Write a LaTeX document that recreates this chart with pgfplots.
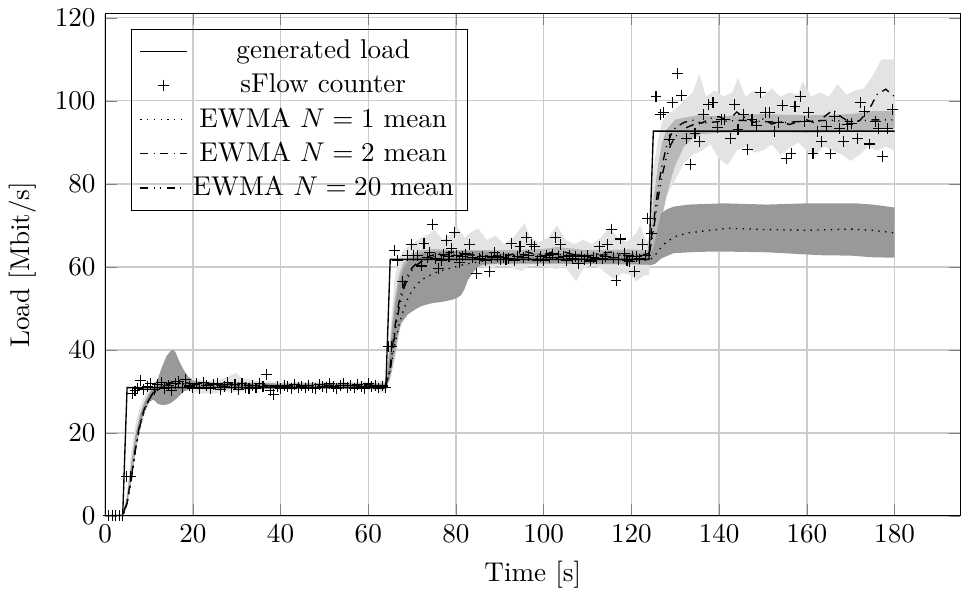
\documentclass[border=0pt]{standalone}
\usepackage{pgfplots}
\pgfplotsset{compat=1.18}
\definecolor{bandlight}{gray}{0.89}
\definecolor{bandmid}{gray}{0.72}
\definecolor{banddark}{gray}{0.60}
\begin{document}
\begin{tikzpicture}
\begin{axis}[
  scale only axis, width=315pt, height=185pt,
  xmin=0, xmax=195, ymin=0, ymax=121,
  xtick={0,20,...,180}, ytick={0,20,...,120},
  grid=major, major grid style={line width=0.5pt, black!20},
  xlabel={Time [s]}, ylabel={Load [Mbit/s]},
  legend style={at={(0.03,0.97)}, anchor=north west, fill=none, draw=black},
  legend cell align=center,
  tick align=inside,
]
% light band
\addplot[fill=bandlight, draw=none, forget plot] coordinates {
(0,0.3)(4,0.5)(5,6)(6,16)(7,22.5)(8,26.5)(9,29)(10,31)(12,33)(14,33.5)(16,33)(18,33.8)(20,33)(22,32.8)(24,32.5)(26,32.8)(28,33.5)(29.9,34.5)(31,33.3)(33,32.8)(35,32.5)(38,32.3)(40,32.4)(45,32.2)(50,32.5)(55,32.3)(60,32.4)(63,32.5)(64,32.6)(65,44)(66,57)(67,62)(68,64)(70,65.5)(72,67)(74,68)(75,69)(77,66.5)(79,68)(80.4,69.5)(82,67)(83,68)(85,69.3)(87,66.5)(89,67.5)(91,65.5)(93,67)(95.6,70.5)(97,67)(99,66)(101,67)(103,70)(105,66.5)(107,65.5)(109,66.5)(111,65.5)(113,67)(115,69.5)(117,67)(119,66)(121,68)(122,70)(123,67)(124,66)(125,84)(126,90)(127,95)(128,96.5)(130,98)(132,100)(134,102)(135.5,106.5)(137,101)(139,102.5)(141,101)(143,102)(144.3,105.5)(146,101)(148,102.5)(150,101)(152,103)(154,101)(156,102)(158,101.5)(159,104.7)(161,101)(163,102)(165,101)(167,104)(169,101.5)(171,102.5)(173,103)(175,106)(177,110)(180,110)
(180,88)(178,89)(176,88)(174,89)(172,87)(170,85.5)(168,87)(166,88)(164,89)(162,87)(160,88)(158,90)(156,88.5)(154,87)(152,89.5)(150,88)(148,87.5)(146,89)(144,88)(142,84.5)(140,86)(138,89.5)(136,88)(134,87)(132,85)(130,81)(128,77)(127,75)(126,72)(125,66)(124,58)(123,58)(121,56.5)(120,58)(118,58.5)(116,57)(113,59.5)(111,60.5)(109,59.5)(107.4,56.5)(105,60)(103,59.5)(100,60)(97,60.5)(95,59)(92,60)(90,60.5)(88,59.5)(85,60.5)(80,60)(78,60)(76,59.5)(74,58.5)(72,56)(70,54)(68,50)(67,44)(66,38)(65,34)(64,29.5)(60,30.5)(55,30.6)(50,30.5)(45,30.6)(40,30.4)(36,30.5)(33,30.3)(30,29.8)(28,30)(25,29.5)(22,29.5)(20,30)(18,30.2)(16,30)(14,30)(12,29.5)(10,27)(9,24.5)(8,21)(7,16)(6,9)(5,2)(4,0)(0,0)
};
% medium band
\addplot[fill=bandmid, draw=none, forget plot] coordinates {
(0,0.2)(4,0.2)(5,4.2)(6,10.5)(7,17.8)(8,23.2)(9,26.6)(10,28.8)(12,31.1)(14,32.3)(16,32.8)(18,32.8)(20,32.3)(25,32.1)(30,32.3)(40,31.9)(50,32)(60,32)(64,31.9)(65,42)(66,52)(67,58)(68,61)(70,63.2)(72,64)(75,64.3)(80,64)(90,64)(100,64.3)(103,64.8)(110,64)(120,64.2)(124,64)(125,76)(126,84)(127,90)(128,93)(130,95.5)(135,96.5)(140,96.3)(150,96.8)(160,96.5)(170,96.8)(175,97.5)(180,97.5)
(180,93.5)(175,93)(170,92.5)(160,92.3)(150,92.5)(140,92.3)(136,92)(134,91)(132,89)(130,84.5)(129,81)(128,77)(127,72)(126,67)(125,62)(124,60.5)(120,60.8)(110,61)(100,61)(90,61)(80,60.8)(76,60.3)(74,59.5)(72,57.5)(70,54.5)(69,52)(68,49)(67,44)(66,38)(65,33)(64,30.6)(60,30.8)(50,30.8)(40,30.7)(30,30.8)(20,30.9)(16,31)(14,30.8)(12,29.8)(10,27.6)(9,25.3)(8,21.5)(7,15.8)(6,8.5)(5,2.5)(4,0)(0,0)
};
% dark band
\addplot[fill=banddark, draw=none, forget plot] coordinates {
(0,0.2)(4,0.3)(5,4.5)(6,13)(7,20)(8,24.5)(9,27.5)(10,29.5)(11,31)(12,33)(13,36)(14,38.5)(15,39.8)(15.5,40)(16,39.5)(17,37)(18,35)(19,33.5)(20,32.6)(22,32.2)(25,32)(30,32)(40,31.8)(50,31.9)(60,31.8)(64,31.8)(65,40)(66,50)(67,56.5)(68,59.5)(69,61.3)(70.5,62.4)(72,63.2)(74,63.6)(78,63.9)(85,63.8)(90,63.3)(100,63.3)(110,63.2)(120,63.3)(124,63.2)(125,64.5)(126,69.5)(126.8,72.9)(128,73.8)(129.6,74.5)(133,75)(141,75.3)(151,75)(160,75.3)(171,75.3)(175,75)(180,74.3)
(180,62.2)(175,62.3)(170,62.7)(163,62.8)(151,63.5)(140,63.7)(135,63.6)(129.6,63.3)(126.8,62)(125.5,60.8)(124.5,60.4)(124,60.5)(120,60.6)(110,60.7)(100,60.8)(90,60.8)(86,60.5)(85,60)(84,58.8)(82.7,56.8)(82,54.8)(81.2,53.2)(80,52.4)(78.9,52)(77,51.6)(74.3,51.2)(72,50.5)(70.5,49.6)(69,48.5)(67.5,46.4)(66.5,43)(65.5,37.5)(65,34)(64,30.5)(60,30.9)(50,30.9)(40,30.8)(30,30.9)(21,31)(20,30.8)(19,30.5)(18,30)(17,29)(16,28)(15,27.2)(14,26.8)(13,26.7)(12,27)(11,28)(10,27.5)(9,25.5)(8,22.5)(7,18)(6,11)(5,3)(4,0)(0,0)
};
% generated load
\addplot[black, line width=0.5pt] coordinates {
(0,0)(4,0)(5,30.9)(64,30.9)(65,61.8)(124,61.8)(125,92.7)(180,92.7)
};
\addlegendentry{generated load}
% sFlow counter
\addplot[black, only marks, mark=+, mark size=2pt, mark options={line width=0.4pt}] coordinates {
(0.8,0)(1.6,0)(2.4,0)(3.2,0)(4.0,0)(4.8,9.5)(5.7,9.5)(6.2,29.5)(6.8,30.1)(7.4,30.8)(8.0,32.7)(8.8,30.5)(9.6,31.2)(10.4,31.8)(11.2,30.4)(12.0,31.6)(12.8,32.1)(13.6,30.6)(14.4,31.4)(15.2,30.2)(16.0,31.9)(16.8,32.4)(17.6,31.0)(18.4,32.8)(19.2,31.3)(20.0,30.8)(20.8,31.9)(21.6,30.7)(22.4,32.2)(23.2,31.5)(24.0,30.6)(24.8,31.7)(25.6,32.0)(26.4,30.4)(27.2,31.2)(28.0,32.1)(28.8,30.9)(29.6,31.6)(30.4,30.5)(31.2,31.8)(32.0,31.0)(32.8,30.7)(33.6,31.5)(34.4,30.8)(35.2,31.9)(36.0,31.2)(36.8,34.0)(37.6,30.3)(38.4,29.2)(39.2,31.1)(40.0,30.6)(40.8,31.5)(41.6,31.2)(42.4,30.7)(43.2,31.6)(44.0,30.9)(44.8,31.3)(45.6,30.8)(46.4,31.4)(47.2,31.0)(48.0,30.7)(48.8,31.6)(49.6,31.2)(50.4,30.9)(51.2,31.8)(52.0,31.1)(52.8,30.6)(53.6,31.5)(54.4,31.9)(55.2,31.0)(56.0,31.4)(56.8,30.8)(57.6,31.6)(58.4,31.2)(59.2,30.7)(60.0,31.9)(60.8,31.1)(61.6,31.5)(62.4,30.8)(63.2,31.3)(64.0,30.9)
(64.6,40.8)(65.2,40.8)
(66.0,63.9)(66.7,61.6)(67.9,56.4)(68.9,62.8)(69.8,65.4)(70.4,62.8)(71.3,62.8)(72.1,60.2)(72.7,65.6)(73.5,62.3)(74.0,63.4)(74.7,70.2)(75.3,62.1)(76.0,59.6)(76.6,61.6)(77.2,62.9)(77.8,66.4)(78.4,62.4)(78.9,64.5)(79.7,68.2)(80.2,62.7)(80.8,61.0)(81.5,62.6)(82.2,63.1)(83.1,65.3)(83.8,62.2)(84.6,58.3)(85.3,62.0)(86.1,62.4)(86.8,61.6)(87.6,58.8)(88.2,62.2)(88.8,63.4)(89.5,62.5)(90.2,61.8)(90.8,62.3)(91.4,61.8)(92.0,62.0)(92.6,65.6)(93.3,61.5)(94.0,62.6)(94.6,65.0)(95.3,62.2)(96.0,67.0)(96.6,62.8)(97.2,65.3)(97.9,64.8)(98.6,61.6)(99.3,62.4)(100.0,61.5)(100.7,62.7)(101.4,62.2)(102.0,63.1)(102.6,67.1)(103.3,62.3)(103.8,65.3)(104.5,62.6)(105.2,61.6)(105.9,62.8)(106.6,61.9)(107.3,62.4)(107.9,60.8)(108.6,62.5)(109.3,61.7)(110.0,62.7)(110.7,61.4)(111.4,62.2)(112.1,62.0)(112.7,64.8)(113.4,61.9)(114.0,62.5)(114.6,65.3)(115.5,69.1)(116.0,62.3)(116.5,56.7)(117.1,61.8)(117.6,66.7)(118.4,63.3)(119.0,61.6)(119.6,61.2)(120.2,62.4)(120.7,58.9)(121.1,62.5)(121.8,61.9)(122.6,65.3)(123.2,62.8)(123.7,71.7)(124.5,68.1)
(125.6,101.1)(126.6,96.6)(127.4,97.1)(128.7,90.6)(129.4,99.5)(130.6,106.6)(131.5,101.3)(132.5,91.0)(133.5,84.6)(134.5,92.2)(135.5,90.2)(136.5,96.6)(137.6,99.1)(138.6,99.6)(139.6,93.5)(140.5,95.6)(141.2,95.6)(142.6,91.0)(143.5,99.1)(144.3,93.0)(145.6,96.6)(146.4,88.2)(147.5,95.6)(148.5,94.0)(149.4,102.1)(150.5,97.2)(151.5,97.2)(152.6,92.6)(153.5,94.8)(154.5,98.9)(155.3,86.0)(156.4,87.4)(157.3,98.7)(158.5,101.1)(159.5,95.0)(160.4,97.2)(161.4,87.4)(162.5,92.6)(163.3,90.2)(164.4,93.8)(165.4,87.2)(166.3,96.3)(167.4,93.4)(168.4,90.2)(169.3,94.2)(170.1,94.6)(171.5,91.0)(172.2,99.5)(173.1,97.5)(174.3,89.6)(175.6,95.0)(176.3,93.4)(177.3,86.6)(178.3,93.4)(179.6,98.0)
};
\addlegendentry{sFlow counter}
% EWMA N=1
\addplot[black, dotted, line width=0.5pt] coordinates {
(0,0)(4,0)(5,3)(6,9)(7,16.5)(8,22)(9,25.5)(10,28)(11,29.5)(12,30.3)(13,30.9)(14,31.3)(16,31.7)(18,31.8)(20,31.6)(25,31.5)(30,31.5)(40,31.3)(50,31.4)(60,31.4)(64,31.3)(65,35)(66,41)(67,46)(68,49.5)(69,52.3)(70,54.3)(72,56.8)(75,58.5)(78,59.5)(82,60.6)(86,61.4)(90,61.8)(100,62.0)(110,61.9)(120,61.8)(124,61.6)(125,62.3)(126,63.6)(127,65)(128,66)(130,67.3)(133,68.2)(137,68.7)(142,69.3)(150,69.0)(160,68.8)(170,69.1)(175,68.8)(180,68.2)
};
\addlegendentry{EWMA $N=1$ mean}
% EWMA N=2
\addplot[black, dashdotted, line width=0.5pt] coordinates {
(0,0)(4,0)(5,3.5)(6,9.5)(7,17)(8,22.5)(9,26)(10,28.3)(11,29.7)(12,30.6)(13,31.2)(14,31.8)(15,32.2)(16,32.4)(17,32.6)(18,32.3)(19,31.9)(20,31.8)(22,31.6)(24,31.9)(26,31.4)(28,31.7)(30,32.1)(32,31.5)(34,31.3)(36,31.6)(38,31.2)(40,31.3)(44,31.5)(48,31.3)(52,31.5)(56,31.4)(60,31.6)(63,31.3)(64,31.4)(65,36)(66,45)(67,51.5)(68,55.5)(69,58)(70,59.8)(71,60.8)(72,61.4)(74,62.6)(76,63.2)(78,63.4)(80,63.6)(82,63.1)(84,62.9)(86,62.7)(88,62.4)(90,62.5)(92,62.8)(94,63.3)(96,63.6)(98,63.1)(100,62.9)(102,63.6)(104,63.8)(106,63.2)(108,62.6)(110,62.5)(112,63.0)(114,63.4)(116,63.6)(118,62.8)(120,62.5)(122,62.8)(124,63.2)(125,70)(126,78.5)(127,84.5)(128,89)(129,91.8)(130,93.5)(132,94.8)(134,95.3)(136,94.6)(138,95.8)(140,96.2)(142,95.1)(144,97.3)(146,95.9)(148,94.8)(150,95.6)(152,94.4)(154,95.0)(156,94.3)(158,94.9)(160,95.4)(162,94.6)(164,96.2)(166,97.8)(168,96.0)(170,94.8)(172,95.2)(174,97.5)(176,101.5)(178,102.8)(180,101.0)
};
\addlegendentry{EWMA $N=2$ mean}
% EWMA N=20
\addplot[black, dashdotdotted, line width=0.5pt] coordinates {
(0,0)(4,0)(5,3)(6,9)(7,16.5)(8,22)(9,25.5)(10,28)(11,29.5)(12,30.4)(13,31)(14,31.5)(15,31.9)(16,32.1)(17,32.2)(18,32.0)(20,31.7)(24,31.5)(28,31.6)(32,31.4)(36,31.4)(40,31.3)(48,31.4)(56,31.4)(64,31.3)(65,35)(66,43.5)(67,50)(68,54.5)(69,57.3)(70,59.2)(71,60.4)(72,61.2)(74,62.2)(76,62.7)(78,62.9)(80,63.0)(85,62.8)(90,62.6)(95,62.9)(100,62.8)(105,63.0)(110,62.7)(115,62.9)(120,62.7)(124,62.7)(125,68.5)(126,76)(127,82)(128,86.5)(129,89.5)(130,91.3)(132,93.3)(134,94.2)(136,94.6)(140,95.0)(145,95.3)(150,95.0)(155,94.8)(160,95.1)(165,95.3)(170,95.0)(175,95.4)(180,95.4)
};
\addlegendentry{EWMA $N=20$ mean}
\end{axis}
\end{tikzpicture}
\end{document}
